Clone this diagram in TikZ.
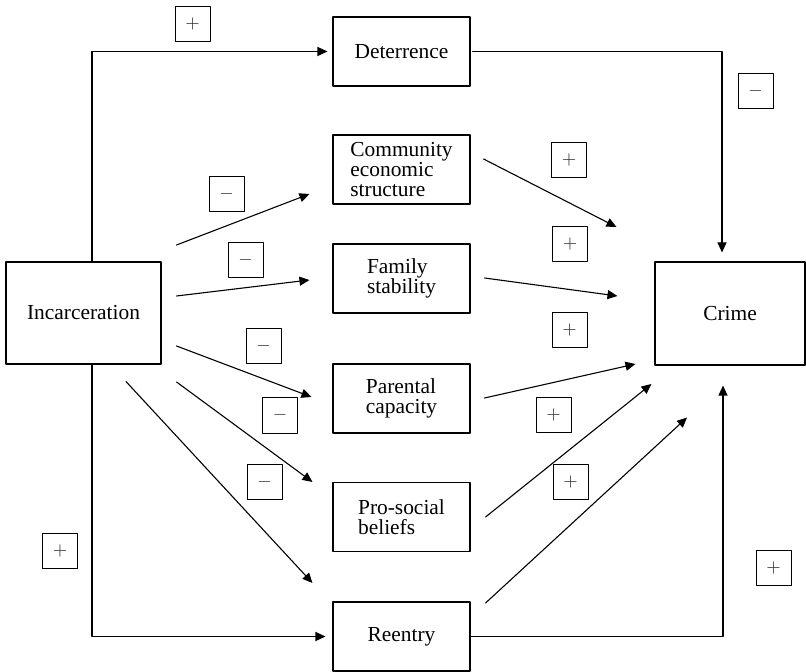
\documentclass[tikz,border=0pt]{standalone}
\usepackage{fontspec}
\setmainfont{Liberation Serif}
\usepackage{tikz}
\usetikzlibrary{arrows}
\usetikzlibrary{arrows.meta,calc}

\begin{document}
\begin{tikzpicture}[line cap=round,line join=round,>={Triangle[length=5pt,width=4.5pt]},x=0.5pt,y=-0.5pt,
        box/.style={draw,line width=0.55pt,align=left,inner sep=0pt,minimum width=68.5pt,minimum height=34.5pt,font=\fontsize{10.7}{10.2}\selectfont},
        sign/.style={draw,line width=0.5pt,minimum size=17.5pt,inner sep=0pt,font=\small,text=black!80}]
                \useasboundingbox (0,0) rectangle (806,672);
                % main boxes
                \node[box,minimum width=77.5pt,minimum height=51pt] (inc) at (83.5,313) {Incarceration};
                \node[box] (det) at (401.5,51.5) {Deterrence};
                \node[box] (com) at (401.5,169.5) {Community\\economic\\structure};
                \node[box] (fam) at (401.5,278.5) {Family\\stability};
                \node[box] (par) at (401.5,398.5) {Parental\\capacity};
                \node[box] (pro) at (401.5,517) {Pro-social\\beliefs};
                \node[box] (ree) at (401.5,636.5) {Reentry};
                \node[box,minimum width=75pt,minimum height=51.5pt] (cri) at (730,313.5) {Crime};
                % connectors
                \draw [line width=0.55pt,->] ([shift={(8.5,0)}]inc.north) |- ([shift={(-5,0)}]det.west);
                \draw [line width=0.55pt,->] ([shift={(2,0)}]det.east) -| ([shift={(-8,-9)}]cri.north);
                \draw [line width=0.55pt,->] ([shift={(8.5,0)}]inc.south) |- ([shift={(-7,0)}]ree.west);
                \draw [line width=0.55pt,->] (ree.east) -| ([shift={(-7,20)}]cri.south);
                \draw [line width=0.55pt,->] ([shift={(15,-68)}]inc.east) -- ([shift={(-23,24.5)}]com.west);
                \draw [line width=0.55pt,->] ([shift={(15,-17)}]inc.east) -- ([shift={(-23,1.5)}]fam.west);
                \draw [line width=0.55pt,->] ([shift={(15,33)}]inc.east) -- ([shift={(-21,-1.5)}]par.west);
                \draw [line width=0.55pt,->] ([shift={(15,69)}]inc.east) -- ([shift={(-20,-35)}]pro.west);
                \draw [line width=0.55pt,->] ([shift={(42.5,17)}]inc.south) -- ([shift={(-20,-53.5)}]ree.west);
                \draw [line width=0.55pt,->] ([shift={(13,-10.5)}]com.east) -- ([shift={(-38,-86.5)}]cri.west);
                \draw [line width=0.55pt,->] ([shift={(14,-0.5)}]fam.east) -- ([shift={(-37,-17.5)}]cri.west);
                \draw [line width=0.55pt,->] ([shift={(14,-0.5)}]par.east) -- ([shift={(-19,50.5)}]cri.west);
                \draw [line width=0.55pt,->] ([shift={(15,0)}]pro.east) -- ([shift={(-3,70.5)}]cri.west);
                \draw [line width=0.55pt,->] ([shift={(15,-33.5)}]ree.east) -- ([shift={(-43,52)}]cri.south);
                % signs
                \node[sign] (s1) at (192.5,24.5) {$+$};
                \node[sign] (s2) at (226.5,194) {$-$};
                \node[sign] (s3) at (245.5,260.5) {$-$};
                \node[sign] (s4) at (263.5,346) {$-$};
                \node[sign] (s5) at (280,415.5) {$-$};
                \node[sign] (s6) at (264.5,482) {$-$};
                \node[sign] (s7) at (60,550.5) {$+$};
                \node[sign] (s8) at (755.5,91) {$-$};
                \node[sign] (s9) at (569,160) {$+$};
                \node[sign] (s10) at (570,244) {$+$};
                \node[sign] (s11) at (569.5,330) {$+$};
                \node[sign] (s12) at (553.5,415) {$+$};
                \node[sign] (s13) at (570.5,482) {$+$};
                \node[sign] (s14) at (773.5,568) {$+$};
            \end{tikzpicture}
\end{document}
